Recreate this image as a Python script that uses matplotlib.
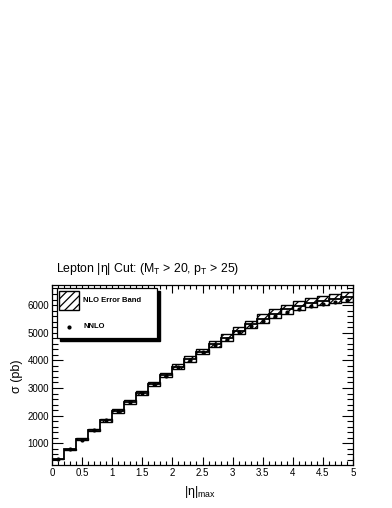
import matplotlib
matplotlib.use("Agg")
import matplotlib.pyplot as plt
import numpy as np
from matplotlib.patches import Rectangle
from matplotlib.ticker import MultipleLocator

plt.rcParams['font.family'] = ['Liberation Sans', 'DejaVu Sans']
plt.rcParams['mathtext.fontset'] = 'custom'
plt.rcParams['mathtext.rm'] = 'Liberation Sans'
plt.rcParams['mathtext.it'] = 'Liberation Sans:italic'
plt.rcParams['hatch.linewidth'] = 0.9

# ---- data ----
bin_edges = [0.0, 0.2, 0.4, 0.6, 0.8, 1.0, 1.2, 1.4, 1.6, 1.8, 2.0, 2.2, 2.4,
             2.6, 2.8, 3.0, 3.2, 3.4, 3.6, 3.8, 4.0, 4.2, 4.4, 4.6, 4.8, 5.0]
nlo_central = [430, 785, 1140, 1485, 1835, 2175, 2505, 2830, 3150, 3465, 3770,
               4050, 4320, 4580, 4820, 5070, 5300, 5510, 5690, 5850, 5980,
               6080, 6160, 6230, 6300]
nlo_err = [15, 25, 35, 45, 55, 65, 70, 75, 80, 85, 95, 100, 105, 110, 120,
           130, 140, 155, 160, 165, 170, 165, 165, 170, 180]
nnlo = [430, 785, 1135, 1480, 1825, 2165, 2490, 2815, 3130, 3445, 3745, 4020,
        4290, 4545, 4780, 5020, 5240, 5430, 5600, 5750, 5870, 5970, 6040,
        6110, 6170]
xticks = [0, 0.5, 1, 1.5, 2, 2.5, 3, 3.5, 4, 4.5, 5]
xtick_labels = ['0', '0.5', '1', '1.5', '2', '2.5', '3', '3.5', '4', '4.5', '5']
yticks = [1000, 2000, 3000, 4000, 5000, 6000]

W, H = 392, 508
fig = plt.figure(figsize=(W / 100, H / 100), dpi=100)
fig.patch.set_facecolor('white')

def fx(px):
    return px / W

def fy(py):
    return 1 - py / H

L, R, T, B = 52, 353, 284.7, 465
ax = fig.add_axes([fx(L), fy(B), fx(R) - fx(L), fy(T) - fy(B)])

edges = np.array(bin_edges)
c = np.array(nlo_central)
e = np.array(nlo_err)
centers = 0.5 * (edges[:-1] + edges[1:])
widths = np.diff(edges)

ax.bar(edges[:-1], 2 * e, bottom=c - e, width=widths, align='edge',
       facecolor='white', edgecolor='black', hatch='////', linewidth=1.0,
       zorder=2)
ax.stairs(c, edges, baseline=None, color='black', linewidth=1.3, zorder=3)
ax.plot(centers, nnlo, 'o', color='black', markersize=2.0, zorder=4)

ax.set_xlim(0, 5)
ax.set_ylim(215, 6736)
ax.set_xticks(xticks)
ax.set_xticklabels(xtick_labels)
ax.set_yticks(yticks)
ax.xaxis.set_minor_locator(MultipleLocator(0.1))
ax.yaxis.set_minor_locator(MultipleLocator(200))
ax.tick_params(which='both', direction='in', top=True, right=True,
               labelsize=7, pad=2, width=0.8, color='black')
ax.tick_params(which='major', axis='x', length=6)
ax.tick_params(which='minor', axis='x', length=3)
ax.tick_params(which='major', axis='y', length=8)
ax.tick_params(which='minor', axis='y', length=4)
for s in ax.spines.values():
    s.set_linewidth(0.9)

# title and labels
fig.text(fx(56), fy(269), r'Lepton |η| Cut: (M$_\mathrm{T}$ > 20, p$_\mathrm{T}$ > 25)',
         fontsize=8.8, ha='left', va='center')
fig.text(fx(17), fy(376), 'σ (pb)', fontsize=9, rotation=90,
         ha='center', va='center')
fig.text(fx(200), fy(492), r'|η|$_\mathrm{max}$', fontsize=9,
         ha='center', va='center')

# legend box with shadow
lx0, lx1, ly0, ly1 = 57, 157, 288, 338
sh = 3
fig.patches.append(Rectangle((fx(lx0 + sh), fy(ly1 + sh)), fx(lx1 - lx0), fy(ly0) - fy(ly1),
                             transform=fig.transFigure, facecolor='black',
                             edgecolor='black', zorder=5))
fig.patches.append(Rectangle((fx(lx0), fy(ly1)), fx(lx1 - lx0), fy(ly0) - fy(ly1),
                             transform=fig.transFigure, facecolor='white',
                             edgecolor='black', linewidth=0.9, zorder=6))
fig.patches.append(Rectangle((fx(59), fy(310)), fx(20), fy(291) - fy(310),
                             transform=fig.transFigure, facecolor='white',
                             edgecolor='black', hatch='////', linewidth=1.0,
                             zorder=7))
fig.text(fx(83), fy(300), 'NLO Error Band', fontsize=5.5, fontweight='bold',
         ha='left', va='center', zorder=8)
fig.text(fx(83), fy(327), 'NNLO', fontsize=5.5, fontweight='bold',
         ha='left', va='center', zorder=8)
fig.lines.append(plt.Line2D([fx(69)], [fy(327)], marker='o', markersize=2.0,
                            color='black', transform=fig.transFigure, zorder=8))

fig.savefig('out.png', dpi=100, facecolor='white')
